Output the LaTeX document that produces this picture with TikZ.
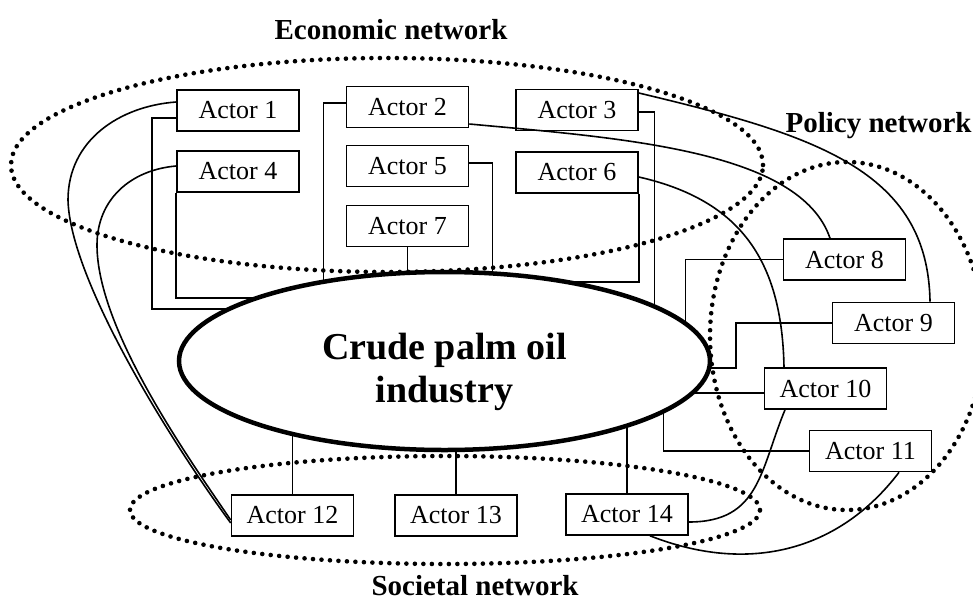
\documentclass[tikz,border=0pt]{standalone}
\usepackage{fontspec}
\setmainfont{Liberation Serif}
\usetikzlibrary{shapes.geometric}
\usetikzlibrary{backgrounds}

\begin{document}
\begin{tikzpicture}[x=1pt,y=-1pt,
	actor/.style={draw,line width=1.6pt,minimum width=122pt,minimum height=41pt,inner sep=0pt,font=\fontsize{26}{30}\selectfont},
	core/.style={draw,ellipse,line width=4.5pt,minimum width=531pt,minimum height=178pt,inner sep=0pt,fill=white},
	coretext/.style={align=center,font=\fontsize{38}{43}\selectfont\bfseries},
	netname/.style={font=\fontsize{29}{34}\selectfont\bfseries},
	network/.style={line width=4.6pt,dash pattern=on 0pt off 8.5pt,line cap=round},
	link/.style={line width=1.6pt}]
	\useasboundingbox (0,0) rectangle (973,602);
	% industry in the middle
	\node[core] (cpo) at (444.5,361) {};
	\node[coretext] (cpotext) at ([yshift=-11pt]cpo.center) {Crude palm oil\\industry};
	% actors
	\node[actor] (a1) at (238,110.5) {Actor 1};
	\node[actor] (a2) at (407.5,107) {Actor 2};
	\node[actor] (a3) at (577,110) {Actor 3};
	\node[actor] (a4) at (238,171.5) {Actor 4};
	\node[actor] (a5) at (407.5,166) {Actor 5};
	\node[actor] (a6) at (577,172.5) {Actor 6};
	\node[actor] (a7) at (407.5,226) {Actor 7};
	\node[actor] (a8) at (844.5,259.5) {Actor 8};
	\node[actor] (a9) at (893.5,323) {Actor 9};
	\node[actor] (a10) at (825.5,388.5) {Actor 10};
	\node[actor] (a11) at (870.5,451) {Actor 11};
	\node[actor] (a12) at (292.5,515.5) {Actor 12};
	\node[actor] (a13) at (456,515.5) {Actor 13};
	\node[actor] (a14) at (627,514.5) {Actor 14};
	% links to the industry (behind the ellipse)
	\begin{scope}[on background layer]
	\draw[link] ([yshift=-7.5pt]a1.west) -- ++(-24,0) |- ([yshift=52pt]cpo.center);
	\draw[link] (a4.south west) |- ([yshift=63pt]cpo.center);
	\draw[link] ([yshift=4pt]a2.west) -| ([xshift=-121pt]cpo.center);
	\draw[link] (a7.south) -- (a7.south |- cpo.center);
	\draw[link] ([yshift=3pt]a5.east) -| ([xshift=48pt]cpo.center);
	\draw[link] ([yshift=-2pt]a3.east) -| ([xshift=210pt]cpo.center);
	\draw[link] (a6.south east) |- ([yshift=79pt]cpo.center);
	\draw[link] (a8.west) -| ([xshift=241pt]cpo.center);
	\draw[link] (a9.west) -- ++(-96,0) |- ([yshift=-7pt]cpo.center);
	\draw[link] ([yshift=-4.5pt]a10.west) -- ++(-100,0);
	\draw[link] (a11.west) -| ([xshift=219pt]cpo.center);
	\draw[link] (a12.north) -- (a12.north |- cpo.center);
	\draw[link] (a13.north) -- (a13.north |- cpo.center);
	\draw[link] (a14.north) -- (a14.north |- cpo.center);
	\end{scope}
	% links between actors
	\draw[link] ([yshift=8.5pt]a1.west) .. controls (120,106) and (68,140) .. (68,200)
		.. controls (70,280) and (170,440) .. ([yshift=-7.5pt]a12.west);
	\draw[link] ([yshift=5.5pt]a4.west) .. controls (130,170) and (97,200) .. (97,245)
		.. controls (97,330) and (190,460) .. ([yshift=-4.5pt]a12.west);
	\draw[link] ([yshift=-17pt]a2.east) .. controls (620,138) and (800,150) .. ([xshift=-14.5pt]a8.north);
	\draw[link] ([yshift=17pt]a3.east) .. controls (815,135) and (928,170) .. ([xshift=36.5pt]a9.north);
	\draw[link] ([yshift=-4.5pt]a6.east) .. controls (740,200) and (782,260) .. ([xshift=-41.5pt]a10.north);
	\draw[link] ([xshift=-40.5pt]a10.south) .. controls (760,470) and (760,522) .. ([yshift=-7.5pt]a14.east);
	\draw[link] ([xshift=28.5pt]a11.south) .. controls (840,550) and (750,575) .. ([xshift=23pt]a14.south);
	% networks
	\draw[network] (387,165) ellipse (376pt and 107pt);
	\draw[network] (847,336) ellipse (137pt and 174pt);
	\draw[network] (445,510) ellipse (315pt and 54pt);
	\node[netname,anchor=base] (econ) at (391,40) {Economic network};
	\node[netname,anchor=base west] (pol) at (782,132) {Policy network};
	\node[netname,anchor=base] (soc) at (475,595) {Societal network};
\end{tikzpicture}
\end{document}
